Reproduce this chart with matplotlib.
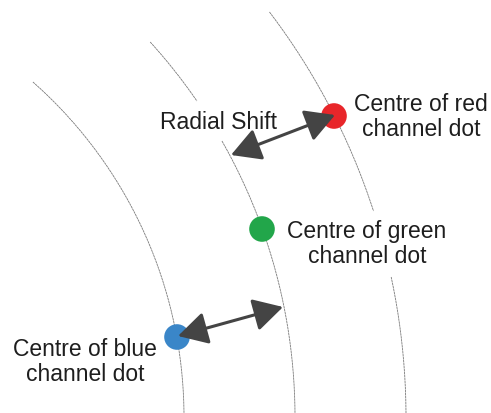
import numpy as np
import matplotlib.pyplot as plt

# diagram in pixel units (origin top-left)
W, H = 491, 414
centre = (-263, 418)
radii = [447, 558, 669]
# visible y-ranges of each arc (gaps leave room for the labels)
arc_segments = [
    [(83, 414)],
    [(43, 102), (142, 414)],
    [(13, 212), (278, 414)],
]

dot_x = [177, 262, 334]
dot_y = [338, 230, 117]
dot_colors = ['#3a86c8', '#22a64a', '#e8262a']

arrows = [((231, 156), (335, 116)), ((178, 337), (283, 308))]

labels = ['Centre of blue\nchannel dot', 'Centre of green\nchannel dot',
          'Centre of red\nchannel dot', 'Radial Shift']
label_x = [85, 367, 421, 219]
label_y = [362, 244, 117, 123]

plt.rcParams['font.family'] = ['Liberation Sans', 'DejaVu Sans']

fig = plt.figure(figsize=(4.91, 4.14), dpi=100)
ax = fig.add_axes([0, 0, 1, 1])
ax.set_xlim(0, W)
ax.set_ylim(H, 0)
ax.axis('off')

for r, segs in zip(radii, arc_segments):
    for y0, y1 in segs:
        y = np.linspace(y0, y1, 200)
        x = centre[0] + np.sqrt(r**2 - (y - centre[1])**2)
        ax.plot(x, y, color='#7a7a7a', lw=0.6, ls=(0, (3, 0.6)), zorder=1)

ax.scatter(dot_x, dot_y, s=340, c=dot_colors, edgecolors='none', zorder=3)

for (x0, y0), (x1, y1) in arrows:
    ax.annotate('', xy=(x1, y1), xytext=(x0, y0),
                arrowprops=dict(arrowstyle='<|-|>,head_length=0.9,head_width=0.5',
                                mutation_scale=20, color='#444444', lw=2.2,
                                shrinkA=0, shrinkB=0), zorder=4)

for t, x, y in zip(labels, label_x, label_y):
    ax.text(x, y, t, ha='center', va='center', fontsize=16.5,
            color='#1e1e1e', linespacing=1.15, zorder=5)

plt.savefig('out.png', dpi=100)
